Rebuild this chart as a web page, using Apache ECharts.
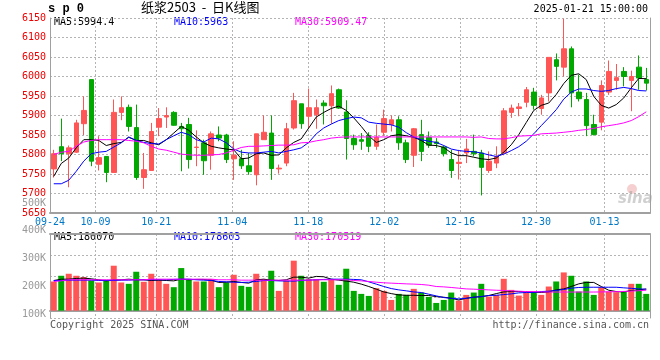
<!DOCTYPE html>
<html>
<head>
<meta charset="utf-8">
<script src="https://cdn.jsdelivr.net/npm/echarts@6/dist/echarts.min.js"></script>
<style>html,body{margin:0;padding:0;background:#fff}#c{width:660px;height:360px}</style>
</head>
<body>
<div id="c"></div>
<script>
const dates = ['09-24','09-25','09-26','09-27','09-30',
'10-08','10-09','10-10','10-11','10-14','10-15','10-16','10-17','10-18','10-21','10-22','10-23','10-24','10-25','10-28','10-29','10-30','10-31',
'11-01','11-04','11-05','11-06','11-07','11-08','11-11','11-12','11-13','11-14','11-15','11-18','11-19','11-20','11-21','11-22','11-25','11-26','11-27','11-28','11-29',
'12-02','12-03','12-04','12-05','12-06','12-09','12-10','12-11','12-12','12-13','12-16','12-17','12-18','12-19','12-20','12-23','12-24','12-25','12-26','12-27','12-30','12-31',
'01-02','01-03','01-06','01-07','01-08','01-09','01-10','01-13','01-14','01-15','01-16','01-17','01-20','01-21'];
const xTickLabels = ['09-24','10-09','10-21','11-04','11-18','12-02','12-16','12-30','01-13'];

const opens  = [5763,5820,5802,5806,5879,5992,5775,5795,5754,5908,5921,5869,5741,5759,5870,5896,5908,5872,5877,5818,5830,5798,5850,5850,5789,5789,5771,5748,5838,5855,5763,5778,5868,5930,5898,5902,5932,5925,5966,5909,5841,5838,5849,5821,5857,5877,5889,5830,5798,5851,5844,5832,5819,5787,5777,5804,5808,5804,5759,5778,5804,5908,5918,5934,5960,5918,5958,6043,6024,6071,5960,5941,5877,5883,5960,5990,6013,5990,6024,5992];
const closes = [5802,5802,5817,5881,5913,5783,5792,5754,5908,5920,5872,5741,5761,5859,5892,5900,5875,5866,5787,5819,5784,5853,5842,5787,5798,5771,5756,5853,5857,5764,5765,5866,5938,5879,5920,5920,5925,5956,5919,5841,5825,5834,5821,5844,5892,5889,5830,5787,5866,5808,5824,5828,5802,5759,5780,5814,5802,5767,5783,5795,5912,5919,5922,5966,5926,5945,6049,6026,6071,5958,5943,5874,5851,5977,6013,5997,6000,6000,5996,5983];
const lows   = [5741,5783,5716,5804,5850,5770,5759,5729,5754,5888,5859,5735,5712,5759,5847,5868,5874,5757,5764,5770,5748,5761,5834,5778,5735,5763,5748,5721,5838,5735,5751,5770,5864,5866,5868,5866,5877,5879,5917,5787,5812,5812,5806,5812,5848,5859,5812,5778,5768,5783,5817,5817,5795,5740,5736,5778,5795,5695,5753,5765,5798,5894,5898,5921,5915,5902,5936,5990,6000,5921,5936,5847,5849,5862,5953,5966,5975,5911,5966,5964];
const highs  = [5812,5892,5823,5889,5949,5992,5847,5795,5941,5949,5928,5928,5804,5881,5919,5921,5911,5881,5894,5862,5838,5859,5872,5853,5834,5812,5804,5853,5900,5900,5774,5881,5958,5930,5969,5941,5939,5977,5969,5939,5851,5855,5857,5877,5915,5900,5898,5838,5868,5889,5859,5842,5823,5812,5812,5840,5851,5812,5808,5821,5919,5928,5932,5973,5971,5953,6049,6059,6148,6077,6005,5958,5902,5990,6041,6032,6024,6015,6054,6022];

const ma5  = [5744,5777,5791,5817,5838,5838,5836,5823,5828,5831,5844,5836,5836,5830,5825,5838,5855,5872,5862,5845,5830,5821,5817,5814,5812,5789,5791,5802,5804,5798,5799,5817,5831,5840,5868,5896,5908,5918,5924,5913,5894,5872,5848,5831,5838,5848,5851,5848,5844,5836,5824,5823,5818,5804,5797,5797,5793,5789,5787,5791,5806,5825,5851,5882,5913,5926,5932,5954,5982,6003,6007,5992,5949,5926,5919,5928,5945,5971,5995,5994.4];
const ma10 = [5725,5725,5734,5757,5783,5802,5806,5808,5819,5830,5845,5836,5831,5828,5827,5838,5848,5857,5851,5838,5832,5842,5840,5830,5814,5806,5804,5804,5806,5808,5804,5808,5812,5817,5831,5853,5868,5878,5887,5892,5896,5894,5883,5880,5878,5876,5870,5856,5845,5838,5834,5831,5823,5814,5810,5808,5807,5804,5799,5795,5801,5810,5820,5834,5853,5874,5894,5915,5942,5960,5968,5968,5964,5962,5964,5969,5972,5969,5964,5963];
const ma30 = [5800,5806,5808,5821,5832,5836,5838,5838,5838,5838,5836,5834,5830,5821,5814,5811,5806,5801,5799,5798,5798,5799,5800,5804,5811,5818,5821,5821,5822,5823,5824,5824,5825,5830,5831,5835,5838,5842,5844,5845,5845,5845,5845,5845,5845,5845,5845,5845,5845,5845,5845,5845,5845,5845,5845,5845,5844,5845,5841,5840,5840,5843,5847,5848,5849,5853,5854,5855,5857,5859,5862,5864,5867,5871,5874,5877,5881,5887,5897,5909.47];

const volumes = [242900,290400,307100,290400,279200,251300,234500,256900,374100,234500,223400,323900,240100,307100,262400,223400,195400,354600,262400,242900,242900,262400,195400,234500,298700,206600,198200,307100,262400,332200,164700,251300,416000,290400,262400,262400,240100,256900,215000,349000,164700,139600,122800,187100,164700,89300,139600,131200,181500,150800,114500,64200,89300,150800,83800,131200,150800,223400,117300,131200,265200,173100,125600,159100,159100,131200,201000,242900,318300,290400,159100,242900,131200,195400,159100,153600,159100,223400,223400,139600];
const volMa5 = [251000,262000,262000,268000,271000,265000,257000,248000,257000,257000,262000,257000,257000,251000,254000,251000,248000,262000,257000,260000,260000,254000,235000,237000,243000,235000,229000,257000,262000,254000,251000,257000,279000,279000,271000,285000,282000,262000,254000,246000,237000,221000,201000,179000,156000,142000,131000,128000,128000,126000,126000,117000,112000,103000,89000,103000,112000,117000,126000,142000,156000,159000,159000,159000,154000,151000,156000,173000,181000,201000,223000,235000,235000,201000,170000,159000,156000,168000,173000,180070];
const volMa10 = [251000,251000,254000,254000,254000,254000,251000,251000,251000,254000,254000,257000,257000,257000,257000,257000,260000,262000,262000,257000,254000,251000,243000,240000,237000,235000,237000,243000,251000,251000,248000,246000,246000,251000,254000,257000,260000,262000,262000,262000,260000,257000,240000,221000,201000,184000,173000,165000,156000,151000,137000,123000,109000,103000,98000,103000,112000,117000,126000,128000,134000,140000,148000,151000,151000,159000,162000,168000,176000,187000,193000,195000,195000,195000,195000,195000,190000,186000,181000,178603];
const volMa30 = [243000,248000,257000,257000,257000,257000,257000,257000,257000,257000,257000,257000,257000,262000,262000,262000,262000,262000,262000,262000,262000,262000,257000,257000,257000,254000,254000,254000,254000,254000,254000,254000,254000,254000,254000,257000,257000,257000,257000,257000,251000,248000,243000,237000,232000,229000,226000,223000,221000,218000,212000,201000,198000,193000,187000,181000,179000,176000,173000,170000,168000,165000,162000,159000,159000,156000,155000,155000,155000,155000,155000,155000,155000,156000,157000,158000,160000,163000,166000,170519];

const volTickValues = [100000,200000,300000,400000,500000];

const upColor = '#ff5555', downColor = '#00a800';
const mono = '"DejaVu Sans Mono", monospace';
const dotted = {type:[2,2], color:'#b4b4b4', width:1};
const border = {color:'#a0a0a0', width:1};
const border2 = {color:'#a0a0a0', width:2};
const isTick = (idx, val) => xTickLabels.indexOf(val) >= 0;

const candleData = dates.map((d,i)=>[opens[i],closes[i],lows[i],highs[i]]);
const volData = volumes.map((v,i)=>({value:v, itemStyle:{color: closes[i]>=opens[i]?upColor:downColor}}));
const hid = {axisLine:{show:false},axisTick:{show:false},axisLabel:{show:false},splitLine:{show:false}};

const chart = echarts.init(document.getElementById('c'), null, {renderer:'canvas'});
const lineS = (data, color, xi, yi) => ({type:'line', data, xAxisIndex:xi, yAxisIndex:yi, symbol:'none', showSymbol:false, lineStyle:{color, width:1}, itemStyle:{color}, z:5, silent:true});

chart.setOption({
  animation:false,
  backgroundColor:'#ffffff',
  grid:[
    {left:50, right:10, top:18, height:195},
    {left:50, right:10, top:234, height:84},
    {left:50, right:10, top:195, height:123, show:false}
  ],
  xAxis:[
    Object.assign({type:'category', gridIndex:0, data:dates, boundaryGap:true}, hid, {axisLine:{show:true, lineStyle:border2}}),
    {type:'category', gridIndex:0, data:dates, boundaryGap:false, position:'bottom',
      axisLine:{show:false}, axisTick:{show:false},
      axisLabel:{show:true, interval:isTick, color:'#0078c8', fontFamily:mono, fontSize:10, margin:4},
      splitLine:{show:true, interval:isTick, lineStyle:dotted}},
    Object.assign({type:'category', gridIndex:1, data:dates, boundaryGap:true}, hid, {axisLine:{show:true, lineStyle:border2}}),
    {type:'category', gridIndex:1, data:dates, boundaryGap:false, position:'top',
      axisLine:{show:true, lineStyle:border2}, axisTick:{show:false}, axisLabel:{show:false},
      splitLine:{show:true, interval:isTick, lineStyle:dotted}},
    Object.assign({type:'value', gridIndex:2, show:false}, hid)
  ],
  yAxis:[
    {type:'value', gridIndex:0, min:5650, max:6150, interval:50,
      axisLine:{show:true, lineStyle:border}, axisTick:{show:false},
      axisLabel:{color:'#ee0000', fontFamily:mono, fontSize:10, margin:4, formatter:(v)=>String(v)},
      splitLine:{show:true, lineStyle:dotted}},
    Object.assign({type:'value', gridIndex:0, position:'right', min:5650, max:6150}, hid, {axisLine:{show:true, lineStyle:border}}),
    Object.assign({type:'value', gridIndex:1, min:-61000, max:638000}, hid, {axisLine:{show:true, lineStyle:border}}),
    Object.assign({type:'value', gridIndex:1, position:'right', inverse:true, min:0, max:4, interval:1}, hid,
      {axisLine:{show:true, lineStyle:border}, splitLine:{show:true, lineStyle:dotted}}),
    {type:'value', gridIndex:2, min:85400, max:529000,
      axisLine:{show:false}, axisTick:{show:false}, splitLine:{show:false},
      axisLabel:{customValues:volTickValues, formatter:(v)=>(v/1000)+'K', color:'#999999', fontFamily:mono, fontSize:10, margin:4}}
  ],
  series:[
    {type:'candlestick', data:candleData, xAxisIndex:0, yAxisIndex:0, barWidth:5,
      itemStyle:{color:upColor, color0:downColor, borderColor:upColor, borderColor0:downColor, borderWidth:1}, silent:true},
    lineS(ma5,'#000000',0,0), lineS(ma10,'#0000ff',0,0), lineS(ma30,'#ff00ff',0,0),
    {type:'bar', data:volData, xAxisIndex:2, yAxisIndex:2, barWidth:6, silent:true},
    lineS(volMa5,'#000000',2,2), lineS(volMa10,'#0000ff',2,2), lineS(volMa30,'#ff00ff',2,2)
  ],
  graphic:[
    {type:'text', left:48, top:3, style:{text:'s p 0', font:'bold 12px "Liberation Mono", monospace', fill:'#000'}},
    {type:'text', left:141, top:1, style:{text:'纸浆2503  -  日K线图', font:'13px "Noto Sans CJK SC", sans-serif', fill:'#000'}},
    {type:'text', right:12, top:4, style:{text:'2025-01-21 15:00:00', font:'10px '+mono, fill:'#000'}},
    {type:'text', left:54, top:17, style:{text:'MA5:'+ma5[ma5.length-1], font:'10px '+mono, fill:'#000'}},
    {type:'text', left:174, top:17, style:{text:'MA10:'+ma10[ma10.length-1], font:'10px '+mono, fill:'#0000ff'}},
    {type:'text', left:295, top:17, style:{text:'MA30:'+ma30[ma30.length-1], font:'10px '+mono, fill:'#ff00ff'}},
    {type:'text', left:54, top:232, style:{text:'MA5:'+volMa5[volMa5.length-1], font:'10px '+mono, fill:'#000'}},
    {type:'text', left:174, top:232, style:{text:'MA10:'+volMa10[volMa10.length-1], font:'10px '+mono, fill:'#0000ff'}},
    {type:'text', left:295, top:232, style:{text:'MA30:'+volMa30[volMa30.length-1], font:'10px '+mono, fill:'#ff00ff'}},
    {type:'text', left:50, top:320, style:{text:'Copyright 2025 SINA.COM', font:'10px '+mono, fill:'#555'}},
    {type:'text', right:11, top:320, style:{text:'http://finance.sina.com.cn', font:'10px '+mono, fill:'#555'}},
    {type:'circle', shape:{cx:632, cy:189, r:5}, style:{fill:'rgba(230,120,120,0.35)'}},
    {type:'text', left:618, top:192, style:{text:'sina', font:'italic bold 15px "DejaVu Sans", sans-serif', fill:'rgba(150,150,150,0.45)'}}
  ]
});
</script>
</body>
</html>
